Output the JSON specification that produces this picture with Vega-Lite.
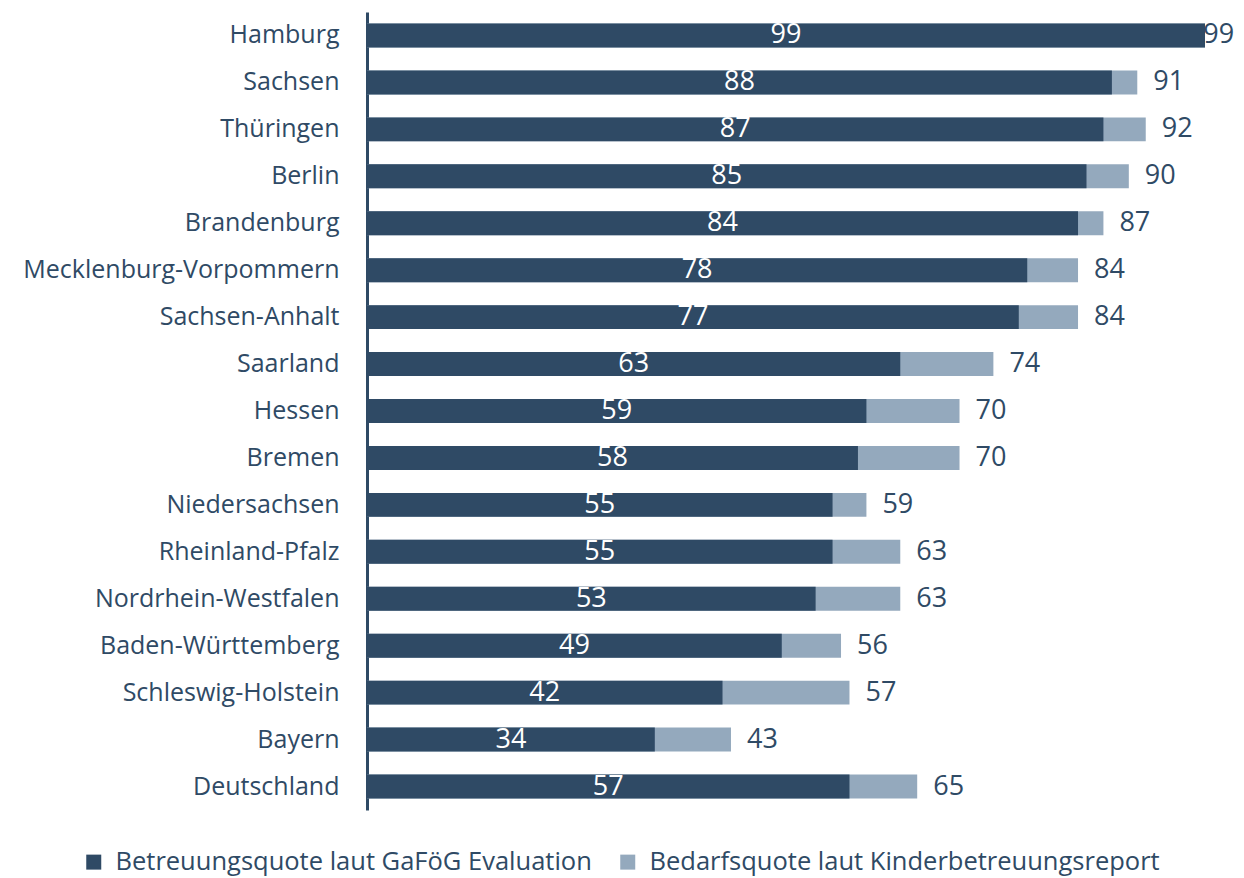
{
  "$schema": "https://vega.github.io/schema/vega-lite/v6.json",
  "width": 838,
  "height": 798,
  "autosize": "none",
  "padding": {"left": 367, "top": 12, "right": 39, "bottom": 68},
  "background": "white",
  "config": {
    "view": {"stroke": null},
    "font": "Open Sans",
    "text": {"font": "Open Sans"}
  },
  "data": {
    "values": [
      {"land": "Hamburg", "betreuung": 99, "bedarf": 99},
      {"land": "Sachsen", "betreuung": 88, "bedarf": 91},
      {"land": "Thüringen", "betreuung": 87, "bedarf": 92},
      {"land": "Berlin", "betreuung": 85, "bedarf": 90},
      {"land": "Brandenburg", "betreuung": 84, "bedarf": 87},
      {"land": "Mecklenburg-Vorpommern", "betreuung": 78, "bedarf": 84},
      {"land": "Sachsen-Anhalt", "betreuung": 77, "bedarf": 84},
      {"land": "Saarland", "betreuung": 63, "bedarf": 74},
      {"land": "Hessen", "betreuung": 59, "bedarf": 70},
      {"land": "Bremen", "betreuung": 58, "bedarf": 70},
      {"land": "Niedersachsen", "betreuung": 55, "bedarf": 59},
      {"land": "Rheinland-Pfalz", "betreuung": 55, "bedarf": 63},
      {"land": "Nordrhein-Westfalen", "betreuung": 53, "bedarf": 63},
      {"land": "Baden-Württemberg", "betreuung": 49, "bedarf": 56},
      {"land": "Schleswig-Holstein", "betreuung": 42, "bedarf": 57},
      {"land": "Bayern", "betreuung": 34, "bedarf": 43},
      {"land": "Deutschland", "betreuung": 57, "bedarf": 65}
    ]
  },
  "encoding": {
    "y": {
      "field": "land",
      "type": "nominal",
      "sort": null,
      "scale": {"paddingInner": 0.49, "paddingOuter": 0.245},
      "axis": {
        "title": null,
        "ticks": false,
        "labelFont": "Open Sans",
        "labelFontSize": 25,
        "labelLimit": 0,
        "labelColor": "#2F4A65",
        "labelPadding": 28,
        "domainColor": "#2F4A65",
        "domainWidth": 3
      }
    }
  },
  "layer": [
    {
      "layer": [
        {
          "mark": {"type": "bar"},
          "encoding": {
            "x": {
              "field": "bedarf",
              "type": "quantitative",
              "scale": {"domain": [0, 99], "nice": false, "zero": true},
              "axis": null
            },
            "color": {
              "datum": "Bedarfsquote laut Kinderbetreuungsreport",
              "type": "nominal",
              "scale": {
                "domain": ["Betreuungsquote laut GaFöG Evaluation", "Bedarfsquote laut Kinderbetreuungsreport"],
                "range": ["#2F4A65", "#94A9BD"]
              },
              "legend": {
                "title": null,
                "orient": "none",
                "direction": "horizontal",
                "legendX": -286,
                "legendY": 837,
                "symbolType": "square",
                "symbolSize": 225,
                "symbolStrokeWidth": 0,
                "labelFont": "Open Sans",
                "labelFontSize": 25.5,
                "labelLimit": 0,
                "labelColor": "#2F4A65",
                "columnPadding": 23,
                "labelOffset": 9
              }
            }
          }
        },
        {
          "mark": {"type": "bar"},
          "encoding": {
            "x": {"field": "betreuung", "type": "quantitative", "axis": null},
            "color": {"datum": "Betreuungsquote laut GaFöG Evaluation", "type": "nominal"}
          }
        },
        {
          "transform": [{"calculate": "min(datum.bedarf, 96.9)", "as": "labelpos"}],
          "mark": {"type": "text", "color": "#2F4A65", "fontSize": 27, "font": "Open Sans", "align": "left", "baseline": "middle", "dx": 16},
          "encoding": {
            "x": {"field": "labelpos", "type": "quantitative", "axis": null},
            "text": {"field": "bedarf", "type": "quantitative"}
          }
        }
      ]
    },
    {
      "mark": {"type": "text", "color": "white", "fontSize": 27, "font": "Open Sans", "align": "center", "baseline": "middle"},
      "encoding": {
        "x": {
          "field": "betreuung",
          "type": "quantitative",
          "scale": {"domain": [0, 198], "nice": false, "zero": true},
          "axis": null
        },
        "text": {"field": "betreuung", "type": "quantitative"}
      }
    }
  ],
  "resolve": {"scale": {"x": "independent"}}
}
